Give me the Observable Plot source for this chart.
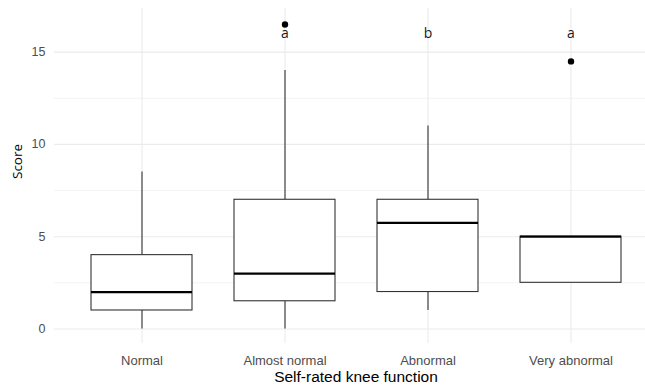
<!DOCTYPE html>
<html>
<head>
<meta charset="utf-8">
<script src="https://cdn.jsdelivr.net/npm/d3@7"></script>
<script src="https://cdn.jsdelivr.net/npm/@observablehq/plot@0.6"></script>
<style>
  html, body { margin: 0; padding: 0; background: #fff; }
  #chart { width: 645px; height: 385px; }
</style>
</head>
<body>
<div id="chart"></div>
<script>
// ---- data ----
const categories = ["Normal", "Almost normal", "Abnormal", "Very abnormal"];
const lowerWhisker = [0, 0, 1, 2.5];
const q1 = [1, 1.5, 2, 2.5];
const median = [2, 3, 5.75, 5];
const q3 = [4, 7, 7, 5];
const upperWhisker = [8.5, 14, 11, 5];

const outlierCategory = ["Almost normal", "Very abnormal"];
const outlierScore = [16.5, 14.5];

const letterCategory = ["Almost normal", "Abnormal", "Very abnormal"];
const letterText = ["a", "b", "a"];
const letterScore = [16.0, 16.0, 16.0];

const yTicks = [0, 5, 10, 15];
const yMinor = [2.5, 7.5, 12.5];

const xTitle = "Self-rated knee function";
const yTitle = "Score";

// ---- tables built from the arrays ----
const boxes = categories.map((c, i) => ({
  cat: c, lo: lowerWhisker[i], q1: q1[i], med: median[i], q3: q3[i], hi: upperWhisker[i]
}));
const outliers = outlierCategory.map((c, i) => ({cat: c, y: outlierScore[i]}));
const letters = letterCategory.map((c, i) => ({cat: c, y: letterScore[i], t: letterText[i]}));

const grid = "#ebebeb";
const boxStroke = "#333333";

const chart = Plot.plot({
  width: 645,
  height: 385,
  marginLeft: 54,
  marginRight: 0,
  marginTop: 8,
  marginBottom: 42,
  style: {fontFamily: "'Liberation Sans', Arial, sans-serif", color: "#4d4d4d", background: "#fff"},
  x: {type: "band", domain: categories, range: [53.8, 657.5], paddingInner: 0.294, paddingOuter: 0.247},
  y: {domain: [-0.8, 17.35], range: [343.2, 8.3]},
  marks: [
    Plot.gridY(yMinor, {stroke: grid, strokeOpacity: 1, strokeWidth: 0.6}),
    Plot.gridY(yTicks, {stroke: grid, strokeOpacity: 1, strokeWidth: 1.1}),
    Plot.gridX(categories, {stroke: grid, strokeOpacity: 1, strokeWidth: 1.1}),
    Plot.ruleX(boxes, {x: "cat", y1: "q3", y2: "hi", stroke: boxStroke, strokeWidth: 1.1}),
    Plot.ruleX(boxes, {x: "cat", y1: "lo", y2: "q1", stroke: boxStroke, strokeWidth: 1.1}),
    Plot.barY(boxes, {x: "cat", y1: "q1", y2: "q3", fill: "white", stroke: boxStroke, strokeWidth: 1.1}),
    Plot.tickY(boxes, {x: "cat", y: "med", stroke: "#000", strokeWidth: 2.2}),
    Plot.dot(outliers, {x: "cat", y: "y", r: 3.2, fill: "#000", stroke: "none"}),
    Plot.text(letters, {x: "cat", y: "y", text: "t", fill: "#1a1a1a", fontSize: 14, fontFamily: "'Open Sans', sans-serif"}),
    Plot.axisX({tickSize: 0, tickPadding: 12, fontSize: 13, label: null}),
    Plot.axisY(yTicks, {tickSize: 0, tickPadding: 9, fontSize: 12.5, label: null}),
    Plot.text([xTitle], {frameAnchor: "bottom", dx: 6, dy: 38, lineAnchor: "bottom", fontSize: 15.5, fill: "#000"}),
    Plot.text([yTitle], {frameAnchor: "left", rotate: -90, dx: -37, dy: 3, fontSize: 13.5, fill: "#000", fontFamily: "'Open Sans', sans-serif"})
  ]
});
document.getElementById("chart").appendChild(chart);
</script>
</body>
</html>
